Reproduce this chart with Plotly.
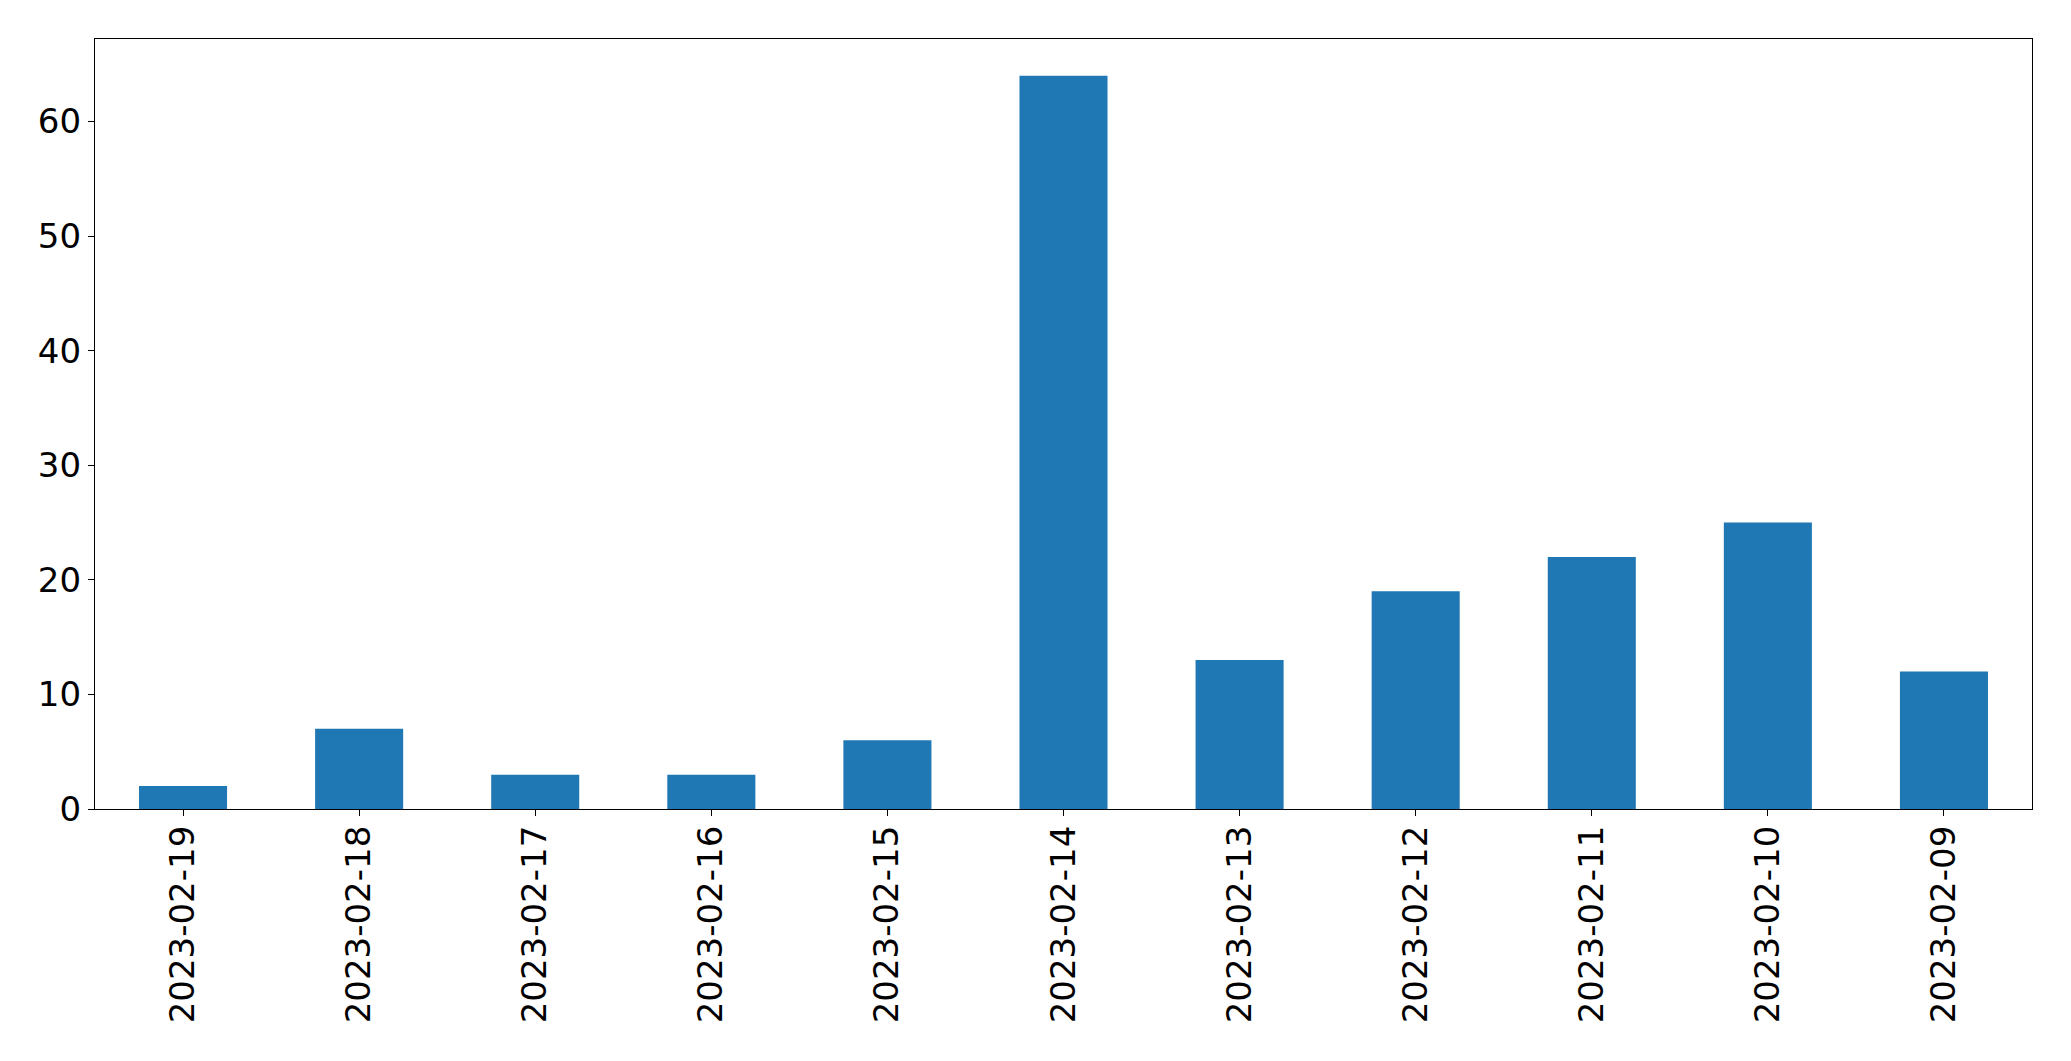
import plotly.graph_objects as go

dates = ["2023-02-19", "2023-02-18", "2023-02-17", "2023-02-16", "2023-02-15",
         "2023-02-14", "2023-02-13", "2023-02-12", "2023-02-11", "2023-02-10", "2023-02-09"]
counts = [2, 7, 3, 3, 6, 64, 13, 19, 22, 25, 12]
y_ticks = [0, 10, 20, 30, 40, 50, 60]

fig = go.Figure(go.Bar(x=dates, y=counts, width=0.5, marker=dict(color="#1f77b4", line=dict(width=0))))

fig.update_layout(
    width=2055, height=1045,
    margin=dict(l=87, r=31, t=31, b=244, autoexpand=False),
    paper_bgcolor="white", plot_bgcolor="white",
    font=dict(family="DejaVu Sans", size=34, color="black"),
    showlegend=False,
)
fig.update_xaxes(
    type="category", range=[-0.5, 10.5], tickangle=-90,
    showline=True, mirror=True, linecolor="black", linewidth=1.3,
    ticks="outside", ticklen=6, tickwidth=1.3, tickcolor="black",
    ticklabelstandoff=-4,
    showgrid=False, zeroline=False,
)
fig.update_yaxes(
    range=[0, 67.2], tickvals=y_ticks,
    showline=True, mirror=True, linecolor="black", linewidth=1.3,
    ticks="outside", ticklen=6, tickwidth=1.3, tickcolor="black",
    showgrid=False, zeroline=False,
)

fig.write_html("out.html")
